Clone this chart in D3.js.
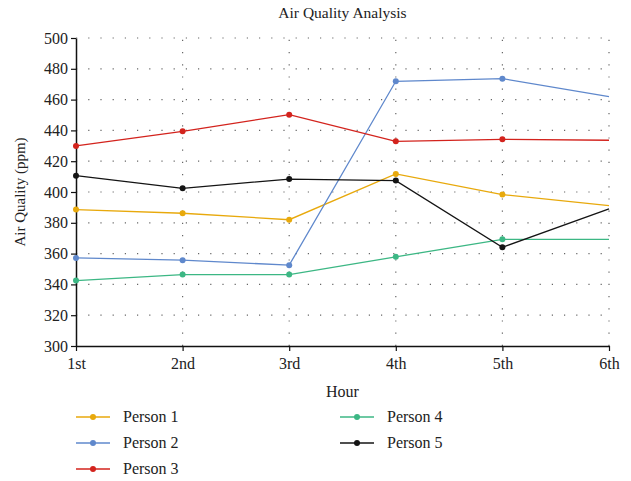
<!DOCTYPE html>
<html><head><meta charset="utf-8">
<script src="https://cdn.jsdelivr.net/npm/d3@7"></script>
<style>body{margin:0;background:#fff}svg{display:block;font-family:"Liberation Serif","DejaVu Serif",serif}</style>
</head><body><svg id="c" width="631" height="481"></svg>
<script>
const hours = ["1st","2nd","3rd","4th","5th","6th"];
const seriesNames = ["Person 1","Person 2","Person 3","Person 4","Person 5"];
const person1 = [388.6, 386.2, 382.0, 411.7, 398.3, 391.1];
const person2 = [357.2, 355.7, 352.5, 471.9, 473.6, 461.9];
const person3 = [429.9, 439.4, 450.2, 432.9, 434.2, 433.6];
const person4 = [342.5, 346.4, 346.4, 357.9, 369.3, 369.3];
const person5 = [410.6, 402.4, 408.4, 407.4, 364.1, 389.0];
const yTicks = [300,320,340,360,380,400,420,440,460,480,500];
const colors = ["#e8a90c","#5f88cc","#d3231d","#3cb784","#141414"];
const allSeries = [person1, person2, person3, person4, person5];

const svg = d3.select("#c");
const mLeft = 76, mRight = 609, mTop = 38, mBottom = 346;
const x = d3.scalePoint().domain(hours).range([mLeft, mRight]);
const y = d3.scaleLinear().domain([300, 500]).range([mBottom, mTop]);

// grid
const g = svg.append("g");
g.selectAll("line.h").data(yTicks.slice(1)).enter().append("line")
  .attr("x1", mLeft).attr("x2", mRight).attr("y1", d => y(d)).attr("y2", d => y(d))
  .attr("stroke", "#666").attr("stroke-width", 1.2).attr("stroke-dasharray", "1.2,11");
g.selectAll("line.v").data(hours.slice(1)).enter().append("line")
  .attr("x1", d => x(d)).attr("x2", d => x(d)).attr("y1", mBottom).attr("y2", mTop)
  .attr("stroke", "#666").attr("stroke-width", 1.2).attr("stroke-dasharray", "1.2,11");

// axes
const ya = svg.append("g").attr("transform", `translate(${mLeft},0)`)
  .call(d3.axisLeft(y).tickValues(yTicks).tickSize(5).tickSizeOuter(0));
const xa = svg.append("g").attr("transform", `translate(0,${mBottom})`)
  .call(d3.axisBottom(x).tickSize(5).tickSizeOuter(0));
[ya, xa].forEach(a => {
  a.selectAll("path").attr("stroke", "#111").attr("stroke-width", 1.5);
  a.selectAll("line").attr("stroke", "#111").attr("stroke-width", 1.2);
  a.selectAll("text").attr("font-family", "Liberation Serif").attr("font-size", 16).attr("fill", "#222");
});
ya.selectAll("text").attr("x", -8);
xa.selectAll("text").attr("y", 12);

// lines
const line = d3.line().x((d, i) => x(hours[i])).y(d => y(d));
allSeries.forEach((s, k) => {
  svg.append("path").datum(s).attr("d", line).attr("fill", "none")
    .attr("stroke", colors[k]).attr("stroke-width", 1.3);
  svg.selectAll(null).data(s.slice(0, 5)).enter().append("circle")
    .attr("cx", (d, i) => x(hours[i])).attr("cy", d => y(d)).attr("r", 3)
    .attr("fill", colors[k]);
});

// titles
svg.append("text").attr("x", (mLeft + mRight) / 2).attr("y", 18).attr("text-anchor", "middle")
  .attr("font-size", 15.5).attr("fill", "#222").text("Air Quality Analysis");
svg.append("text").attr("x", (mLeft + mRight) / 2).attr("y", 397).attr("text-anchor", "middle")
  .attr("font-size", 16).attr("fill", "#222").text("Hour");
svg.append("text").attr("transform", `translate(25,${(mTop + mBottom) / 2}) rotate(-90)`)
  .attr("text-anchor", "middle").attr("font-size", 15).attr("fill", "#222").text("Air Quality (ppm)");

// legend
const legPos = [[76,417],[76,443],[76,469],[340,417],[340,443]];
seriesNames.forEach((n, k) => {
  const [lx, ly] = legPos[k];
  svg.append("line").attr("x1", lx).attr("x2", lx + 34).attr("y1", ly).attr("y2", ly)
    .attr("stroke", colors[k]).attr("stroke-width", 1.5);
  svg.append("circle").attr("cx", lx + 17).attr("cy", ly).attr("r", 3).attr("fill", colors[k]);
  svg.append("text").attr("x", lx + 47).attr("y", ly + 5).attr("font-size", 16)
    .attr("fill", "#222").text(n);
});
</script></body></html>
